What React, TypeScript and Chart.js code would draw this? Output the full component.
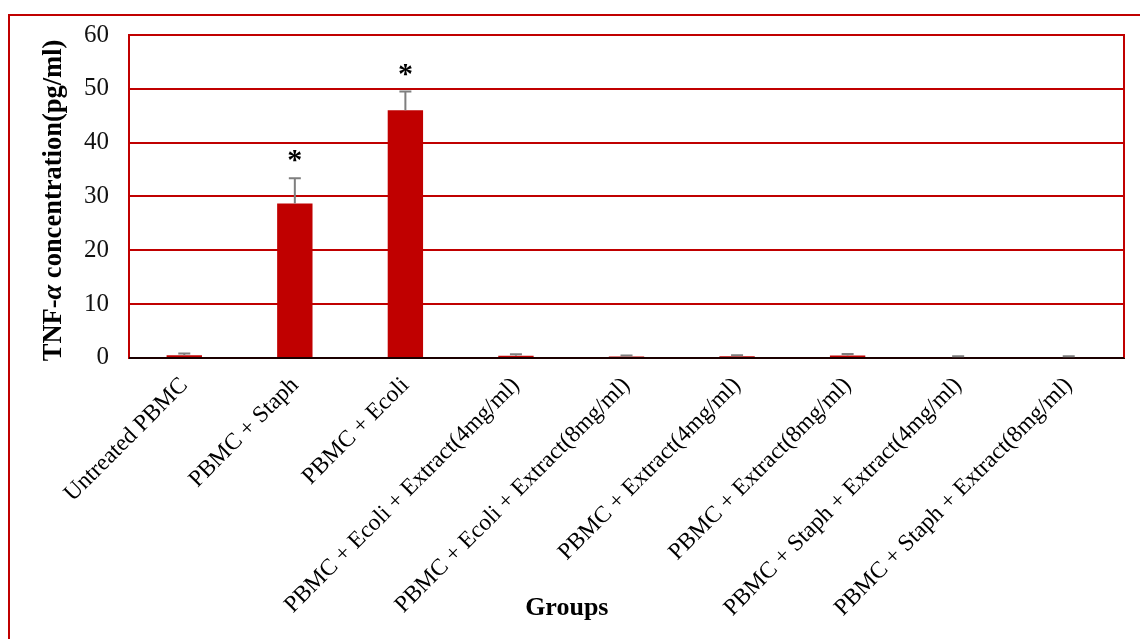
import { useEffect, useRef } from 'react';
import { Chart, registerables } from 'chart.js';

Chart.register(...registerables);

const categories = [
  'Untreated PBMC',
  'PBMC + Staph',
  'PBMC + Ecoli',
  'PBMC + Ecoli + Extract(4mg/ml)',
  'PBMC + Ecoli + Extract(8mg/ml)',
  'PBMC + Extract(4mg/ml)',
  'PBMC + Extract(8mg/ml)',
  'PBMC + Staph + Extract(4mg/ml)',
  'PBMC + Staph + Extract(8mg/ml)',
];
const meanValues = [0.5, 28.7, 46.0, 0.4, 0.25, 0.3, 0.45, 0.15, 0.15];
const errorValues = [0.3, 4.7, 3.5, 0.3, 0.2, 0.2, 0.3, 0.15, 0.15];
const significance = ['', '*', '*', '', '', '', '', '', ''];
const yMin = 0;
const yMax = 60;
const yStep = 10;
const yTitleParts = [
  { text: 'TNF-', italic: false },
  { text: 'α', italic: true },
  { text: ' concentration(pg/ml)', italic: false },
];
const xTitle = 'Groups';

const RED = '#C00000';
const FONT = "'Liberation Serif', 'Times New Roman', serif";

const decorPlugin = {
  id: 'decor',
  beforeDraw(chart: any) {
    const ctx = chart.ctx;
    ctx.save();
    ctx.strokeStyle = RED;
    ctx.lineWidth = 2;
    ctx.beginPath();
    ctx.moveTo(9, chart.height + 5);
    ctx.lineTo(9, 15);
    ctx.lineTo(chart.width + 5, 15);
    ctx.stroke();
    ctx.restore();
  },
  afterDatasetsDraw(chart: any) {
    const ctx = chart.ctx;
    const ca = chart.chartArea;
    const x = chart.scales.x;
    const y = chart.scales.y;
    ctx.save();
    // right frame
    ctx.strokeStyle = RED;
    ctx.lineWidth = 2;
    ctx.beginPath();
    ctx.moveTo(ca.right, ca.top - 1);
    ctx.lineTo(ca.right, ca.bottom);
    ctx.stroke();
    // zero line
    ctx.strokeStyle = '#1a0000';
    ctx.beginPath();
    ctx.moveTo(ca.left, y.getPixelForValue(0));
    ctx.lineTo(ca.right, y.getPixelForValue(0));
    ctx.stroke();
    // error bars
    ctx.strokeStyle = '#7f7f7f';
    ctx.lineWidth = 2;
    meanValues.forEach((v, i) => {
      const px = x.getPixelForValue(i);
      const top = y.getPixelForValue(v + errorValues[i]);
      const base = y.getPixelForValue(v);
      ctx.beginPath();
      ctx.moveTo(px, base);
      ctx.lineTo(px, top);
      ctx.moveTo(px - 6, top);
      ctx.lineTo(px + 6, top);
      ctx.stroke();
      if (significance[i]) {
        ctx.fillStyle = '#000';
        ctx.font = `bold 30px ${FONT}`;
        ctx.textAlign = 'center';
        ctx.textBaseline = 'alphabetic';
        ctx.fillText(significance[i], px, top - 9);
      }
    });
    ctx.restore();
  },
  afterDraw(chart: any) {
    const ctx = chart.ctx;
    const ca = chart.chartArea;
    ctx.save();
    // y title
    const size = 26.5;
    const fontFor = (it: boolean) => `${it ? 'italic ' : ''}bold ${size}px ${FONT}`;
    let total = 0;
    const widths = yTitleParts.map((p) => {
      ctx.font = fontFor(p.italic);
      const w = ctx.measureText(p.text).width;
      total += w;
      return w;
    });
    ctx.translate(ca.left - 75, (ca.top + ca.bottom) / 2 + 4);
    ctx.rotate(-Math.PI / 2);
    ctx.fillStyle = '#000';
    ctx.textBaseline = 'middle';
    ctx.textAlign = 'left';
    let cx = -total / 2;
    yTitleParts.forEach((p, i) => {
      ctx.font = fontFor(p.italic);
      ctx.fillText(p.text, cx, 0);
      cx += widths[i];
    });
    ctx.restore();
    // x title
    ctx.save();
    ctx.fillStyle = '#000';
    ctx.font = `bold 26px ${FONT}`;
    ctx.textAlign = 'center';
    ctx.textBaseline = 'middle';
    ctx.fillText(xTitle, ca.left + ca.width * 0.44, chart.height - 31);
    ctx.restore();
  },
};

export default function App() {
  const ref = useRef<HTMLCanvasElement | null>(null);
  useEffect(() => {
    if (!ref.current) return;
    const chart = new Chart(ref.current, {
      type: 'bar',
      data: {
        labels: categories,
        datasets: [
          {
            data: meanValues,
            backgroundColor: RED,
            borderWidth: 0,
            barPercentage: 0.32,
            categoryPercentage: 1,
          },
        ],
      },
      options: {
        animation: false,
        responsive: false,
        devicePixelRatio: 1,
        layout: { padding: { left: 64, right: 16, top: 32, bottom: 11 } },
        plugins: {
          legend: { display: false },
          tooltip: { enabled: false },
        },
        scales: {
          x: {
            grid: { display: false },
            border: { display: true, color: '#1a0000', width: 2 },
            ticks: {
              autoSkip: false,
              maxRotation: 45,
              minRotation: 45,
              padding: 6,
              color: '#000',
              font: { family: FONT, size: 23.5 },
            },
          },
          y: {
            min: yMin,
            max: yMax,
            grid: {
              color: (c: any) => (c.tick && c.tick.value === 0 ? '#1a0000' : RED),
              lineWidth: 2,
              drawTicks: false,
            },
            border: { display: true, color: RED, width: 2 },
            ticks: {
              stepSize: yStep,
              padding: 20,
              color: '#111',
              font: { family: FONT, size: 25 },
            },
          },
        },
      },
      plugins: [decorPlugin],
    });
    return () => chart.destroy();
  }, []);
  return (
    <div style={{ position: 'fixed', left: 0, top: 0, width: 1140, height: 639, background: '#fff' }}>
      <canvas ref={ref} width={1140} height={639} style={{ display: 'block', width: 1140, height: 639 }} />
    </div>
  );
}
